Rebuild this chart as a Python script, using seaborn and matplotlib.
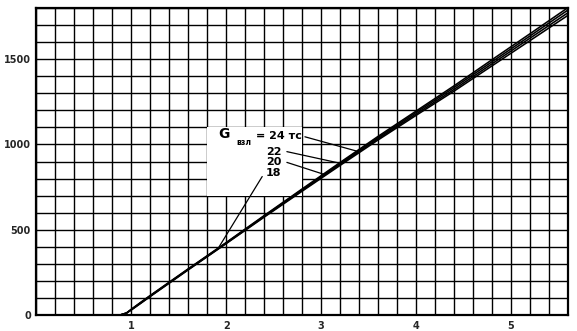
import numpy as np
import pandas as pd
import matplotlib
matplotlib.use("Agg")
import matplotlib.pyplot as plt
import seaborn as sns

# ---- data ----
x_vals = [0.88, 0.95, 1.0, 1.1, 1.2, 1.4, 1.6, 1.8, 2.0, 2.4, 2.8, 3.2, 3.6, 4.0, 4.4, 4.8, 5.2, 5.6]
y_24 = [0, 12, 34, 75, 115, 193, 271, 348, 425, 583, 739, 894, 1047, 1195, 1343, 1496, 1648, 1801]
y_22 = [0, 12, 33, 73, 113, 191, 269, 346, 423, 580, 735, 889, 1040, 1187, 1333, 1484, 1635, 1787]
y_20 = [0, 12, 31, 71, 111, 189, 267, 344, 421, 577, 730, 883, 1033, 1178, 1322, 1472, 1622, 1771]
y_18 = [0, 12, 30, 69, 109, 187, 265, 342, 419, 574, 726, 877, 1026, 1170, 1312, 1460, 1608, 1756]
series_names = ["24", "22", "20", "18"]

x_ticks = [1, 2, 3, 4, 5]
x_tick_labels = ["1", "2", "3", "4", "5"]
y_ticks = [0, 500, 1000, 1500]
y_tick_labels = ["0", "500", "1000", "1500"]

df = pd.concat([
    pd.DataFrame({"x": x_vals, "y": ys, "G": name})
    for name, ys in zip(series_names, [y_24, y_22, y_20, y_18])
], ignore_index=True)

sns.set_style("white")
plt.rcParams['font.family'] = ['DejaVu Sans']

fig = plt.figure(figsize=(5.77, 3.31), dpi=100)
ax = fig.add_axes([0.063, 0.048, 0.921, 0.928])

sns.lineplot(data=df, x="x", y="y", hue="G", palette=["black"] * 4,
             linewidth=1.15, legend=False, ax=ax, zorder=4, sort=True)

ax.set_xlim(0, 5.6)
ax.set_ylim(0, 1800)
ax.set_xticks(x_ticks)
ax.set_xticklabels(x_tick_labels)
ax.set_xticks(np.arange(0, 5.61, 0.2), minor=True)
ax.set_yticks(y_ticks)
ax.set_yticklabels(y_tick_labels)
ax.set_yticks(np.arange(0, 1801, 100), minor=True)
ax.grid(True, which="both", color="black", linewidth=1.0, zorder=1)
ax.set_axisbelow(True)
ax.tick_params(which="both", length=0)
ax.tick_params(axis="x", pad=4, labelsize=7)
ax.tick_params(axis="y", pad=4, labelsize=7)
for lab in ax.get_xticklabels() + ax.get_yticklabels():
    lab.set_fontweight("bold")
ax.set_xlabel("")
ax.set_ylabel("")
for s in ax.spines.values():
    s.set_color("black")
    s.set_linewidth(1.6)

# white label box
ax.add_patch(plt.Rectangle((1.8, 700), 1.0, 400, facecolor="white",
                           edgecolor="none", zorder=2))

tk = dict(color="black", fontweight="bold", zorder=6)
ax.text(1.98, 1062, "G", fontsize=10, ha="center", va="center", **tk)
ax.text(2.19, 1010, "взл", fontsize=5.5, ha="center", va="center", **tk)
ax.text(2.31, 1048, "= 24 тс", fontsize=8, ha="left", va="center", **tk)
ax.text(2.42, 958, "22", fontsize=8, ha="left", va="center", **tk)
ax.text(2.42, 895, "20", fontsize=8, ha="left", va="center", **tk)
ax.text(2.42, 830, "18", fontsize=8, ha="left", va="center", **tk)

lk = dict(color="black", linewidth=0.9, zorder=5)
ax.plot([2.83, 3.37], [1045, 962], **lk)
ax.plot([2.64, 3.20], [958, 890], **lk)
ax.plot([2.64, 3.03], [895, 825], **lk)
ax.plot([2.38, 1.92], [812, 395], **lk)

fig.savefig("out.png", dpi=100)
